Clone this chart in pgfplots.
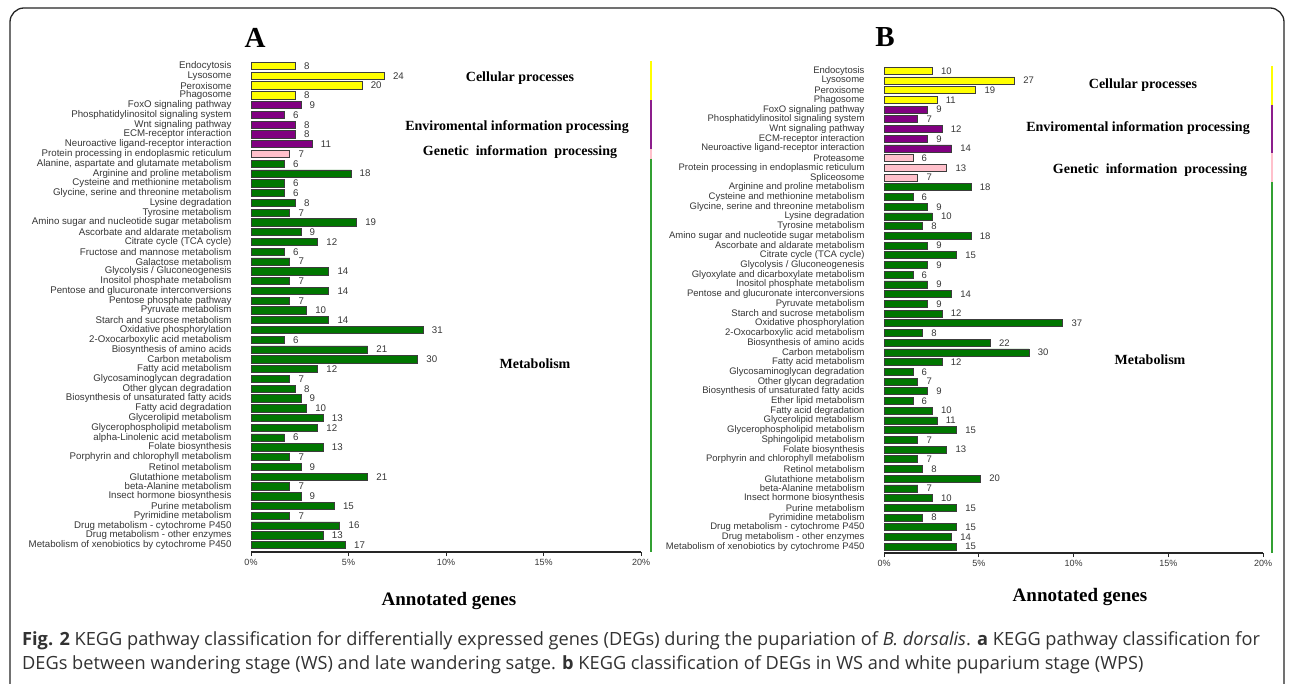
\documentclass[border=0pt]{standalone}
\usepackage{pgfplots}
\pgfplotsset{compat=1.18}
\usepackage{fontspec}
\setmainfont{Liberation Serif}
\setsansfont{Liberation Sans}
\newfontfamily\capfont{Open Sans}
\definecolor{barY}{RGB}{255,255,0}
\definecolor{barP}{RGB}{128,0,128}
\definecolor{barK}{RGB}{255,192,203}
\definecolor{barG}{RGB}{0,118,0}
\definecolor{stripP}{RGB}{140,30,140}
\definecolor{stripG}{RGB}{50,160,50}
\definecolor{edgegray}{RGB}{60,60,60}
\definecolor{txtgray}{RGB}{55,55,55}
\definecolor{capgray}{RGB}{50,50,50}
\pgfplotsset{keggaxis/.style={
  scale only axis, anchor=south west, xbar, bar shift=0pt,
  y dir=reverse, ymin=-0.5, xmin=0,
  axis x line*=bottom, axis y line*=left,
  y axis line style={draw=none},
  ytick={0,...,49}, ytick style={draw=none},
  tick align=outside, major tick length=4pt,
  x tick style={draw=black!85, line width=0.9pt},
  x axis line style={black!85, line width=1.2pt},
  xticklabel style={font=\sffamily\fontsize{9}{10}\selectfont, text=txtgray},
  nodes near coords, point meta=x,
  /pgf/number format/assume math mode=true,
  clip=false,
  every axis plot/.append style={draw=edgegray, line width=0.8pt},
}}
\begin{document}
\begin{tikzpicture}[x=1pt,y=1pt]
\useasboundingbox (0,0) rectangle (1292,683);
\fill[white] (0,0) rectangle (1292,683);
\draw[rounded corners=14pt, line width=1.3pt, black!85] (10,-4) -- (10,675) -- (1284,675) -- (1284,-4);

% ---------------- Panel A ----------------
\begin{axis}[keggaxis,
  at={(251pt,131pt)}, width=390pt, height=490.9pt,
  xmax=70.2, ymax=49.7, bar width=7.3pt,
  xtick={0,17.55,35.1,52.65,70.2}, xticklabels={0\%,5\%,10\%,15\%,20\%},
  yticklabel style={font=\sffamily\fontsize{9.7}{10}\selectfont, text=txtgray, xshift=-12pt},
  nodes near coords style={font=\sffamily\fontsize{9.7}{10}\selectfont, text=txtgray, anchor=west, xshift=5pt},
  yticklabels={Endocytosis,Lysosome,Peroxisome,Phagosome,FoxO signaling pathway,Phosphatidylinositol signaling system,Wnt signaling pathway,ECM-receptor interaction,Neuroactive ligand-receptor interaction,Protein processing in endoplasmic reticulum,{Alanine, aspartate and glutamate metabolism},Arginine and proline metabolism,Cysteine and methionine metabolism,{Glycine, serine and threonine metabolism},Lysine degradation,Tyrosine metabolism,Amino sugar and nucleotide sugar metabolism,Ascorbate and aldarate metabolism,Citrate cycle (TCA cycle),Fructose and mannose metabolism,Galactose metabolism,Glycolysis / Gluconeogenesis,Inositol phosphate metabolism,Pentose and glucuronate interconversions,Pentose phosphate pathway,Pyruvate metabolism,Starch and sucrose metabolism,Oxidative phosphorylation,2-Oxocarboxylic acid metabolism,Biosynthesis of amino acids,Carbon metabolism,Fatty acid metabolism,Glycosaminoglycan degradation,Other glycan degradation,Biosynthesis of unsaturated fatty acids,Fatty acid degradation,Glycerolipid metabolism,Glycerophospholipid metabolism,alpha-Linolenic acid metabolism,Folate biosynthesis,Porphyrin and chlorophyll metabolism,Retinol metabolism,Glutathione metabolism,beta-Alanine metabolism,Insect hormone biosynthesis,Purine metabolism,Pyrimidine metabolism,Drug metabolism - cytochrome P450,Drug metabolism - other enzymes,Metabolism of xenobiotics by cytochrome P450},
]
\addplot[fill=barY] coordinates {(8,0) (24,1) (20,2) (8,3)};
\addplot[fill=barP] coordinates {(9,4) (6,5) (8,6) (8,7) (11,8)};
\addplot[fill=barK] coordinates {(7,9)};
\addplot[fill=barG] coordinates {(6,10) (18,11) (6,12) (6,13) (8,14) (7,15) (19,16) (9,17) (12,18) (6,19) (7,20) (14,21) (7,22) (14,23) (7,24) (10,25) (14,26) (31,27) (6,28) (21,29) (30,30) (12,31) (7,32) (8,33) (9,34) (10,35) (13,36) (12,37) (6,38) (13,39) (7,40) (9,41) (21,42) (7,43) (9,44) (15,45) (7,46) (16,47) (13,48) (17,49)};
\draw[barY, line width=2.5pt] (axis cs:72,-0.5) -- (axis cs:72,3.5);
\draw[stripP, line width=2.5pt] (axis cs:72,3.5) -- (axis cs:72,8.5);
\draw[barK, line width=2.5pt] (axis cs:72,8.5) -- (axis cs:72,9.5);
\draw[stripG, line width=2.5pt] (axis cs:72,9.5) -- (axis cs:72,49.7);
\end{axis}

% ---------------- Panel B ----------------
\begin{axis}[keggaxis,
  at={(884pt,130pt)}, width=379pt, height=487.1pt,
  xmax=78.4, ymax=49.65, bar width=7.0pt,
  xtick={0,19.6,39.2,58.8,78.4}, xticklabels={0\%,5\%,10\%,15\%,20\%},
  yticklabel style={font=\sffamily\fontsize{9.5}{10}\selectfont, text=txtgray, xshift=-12pt},
  nodes near coords style={font=\sffamily\fontsize{9.5}{10}\selectfont, text=txtgray, anchor=west, xshift=5pt},
  yticklabels={Endocytosis,Lysosome,Peroxisome,Phagosome,FoxO signaling pathway,Phosphatidylinositol signaling system,Wnt signaling pathway,ECM-receptor interaction,Neuroactive ligand-receptor interaction,Proteasome,Protein processing in endoplasmic reticulum,Spliceosome,Arginine and proline metabolism,Cysteine and methionine metabolism,{Glycine, serine and threonine metabolism},Lysine degradation,Tyrosine metabolism,Amino sugar and nucleotide sugar metabolism,Ascorbate and aldarate metabolism,Citrate cycle (TCA cycle),Glycolysis / Gluconeogenesis,Glyoxylate and dicarboxylate metabolism,Inositol phosphate metabolism,Pentose and glucuronate interconversions,Pyruvate metabolism,Starch and sucrose metabolism,Oxidative phosphorylation,2-Oxocarboxylic acid metabolism,Biosynthesis of amino acids,Carbon metabolism,Fatty acid metabolism,Glycosaminoglycan degradation,Other glycan degradation,Biosynthesis of unsaturated fatty acids,Ether lipid metabolism,Fatty acid degradation,Glycerolipid metabolism,Glycerophospholipid metabolism,Sphingolipid metabolism,Folate biosynthesis,Porphyrin and chlorophyll metabolism,Retinol metabolism,Glutathione metabolism,beta-Alanine metabolism,Insect hormone biosynthesis,Purine metabolism,Pyrimidine metabolism,Drug metabolism - cytochrome P450,Drug metabolism - other enzymes,Metabolism of xenobiotics by cytochrome P450},
]
\addplot[fill=barY] coordinates {(10,0) (27,1) (19,2) (11,3)};
\addplot[fill=barP] coordinates {(9,4) (7,5) (12,6) (9,7) (14,8)};
\addplot[fill=barK] coordinates {(6,9) (13,10) (7,11)};
\addplot[fill=barG] coordinates {(18,12) (6,13) (9,14) (10,15) (8,16) (18,17) (9,18) (15,19) (9,20) (6,21) (9,22) (14,23) (9,24) (12,25) (37,26) (8,27) (22,28) (30,29) (12,30) (6,31) (7,32) (9,33) (6,34) (10,35) (11,36) (15,37) (7,38) (13,39) (7,40) (8,41) (20,42) (7,43) (10,44) (15,45) (8,46) (15,47) (14,48) (15,49)};
\draw[barY, line width=2.5pt] (axis cs:80.26,-0.5) -- (axis cs:80.26,3.5);
\draw[stripP, line width=2.5pt] (axis cs:80.26,3.5) -- (axis cs:80.26,8.5);
\draw[barK, line width=2.5pt] (axis cs:80.26,8.5) -- (axis cs:80.26,11.5);
\draw[stripG, line width=2.5pt] (axis cs:80.26,11.5) -- (axis cs:80.26,49.65);
\end{axis}

% ---------------- Texts ----------------
\node[font=\bfseries\fontsize{29}{30}\selectfont] at (255,645.5) {A};
\node[font=\bfseries\fontsize{29}{30}\selectfont] at (885,646) {B};
\begin{scope}[every node/.style={font=\bfseries\fontsize{14}{16}\selectfont}]
\node at (520,605.3) {Cellular processes};
\node at (517,556.3) {Enviromental information processing};
\node at (520,531) {Genetic\ \ information\ \ processing};
\node at (535,319) {Metabolism};
\node at (1143,598) {Cellular processes};
\node at (1138,555) {Enviromental information processing};
\node at (1150,513) {Genetic\ \ information\ \ processing};
\node at (1150,323) {Metabolism};
\end{scope}
\node[font=\bfseries\fontsize{19}{21}\selectfont] at (449,82.3) {Annotated genes};
\node[font=\bfseries\fontsize{19}{21}\selectfont] at (1080,86.3) {Annotated genes};
\begin{scope}[every node/.style={anchor=base west, inner sep=0pt, text=capgray, font=\capfont\fontsize{18.2}{24}\selectfont}]
\node at (22,38) {\textbf{Fig. 2} KEGG pathway classification for differentially expressed genes (DEGs) during the pupariation of \textit{B. dorsalis}. \textbf{a} KEGG pathway classification for};
\node at (22,14) {DEGs between wandering stage (WS) and late wandering satge. \textbf{b} KEGG classification of DEGs in WS and white puparium stage (WPS)};
\end{scope}
\end{tikzpicture}
\end{document}
